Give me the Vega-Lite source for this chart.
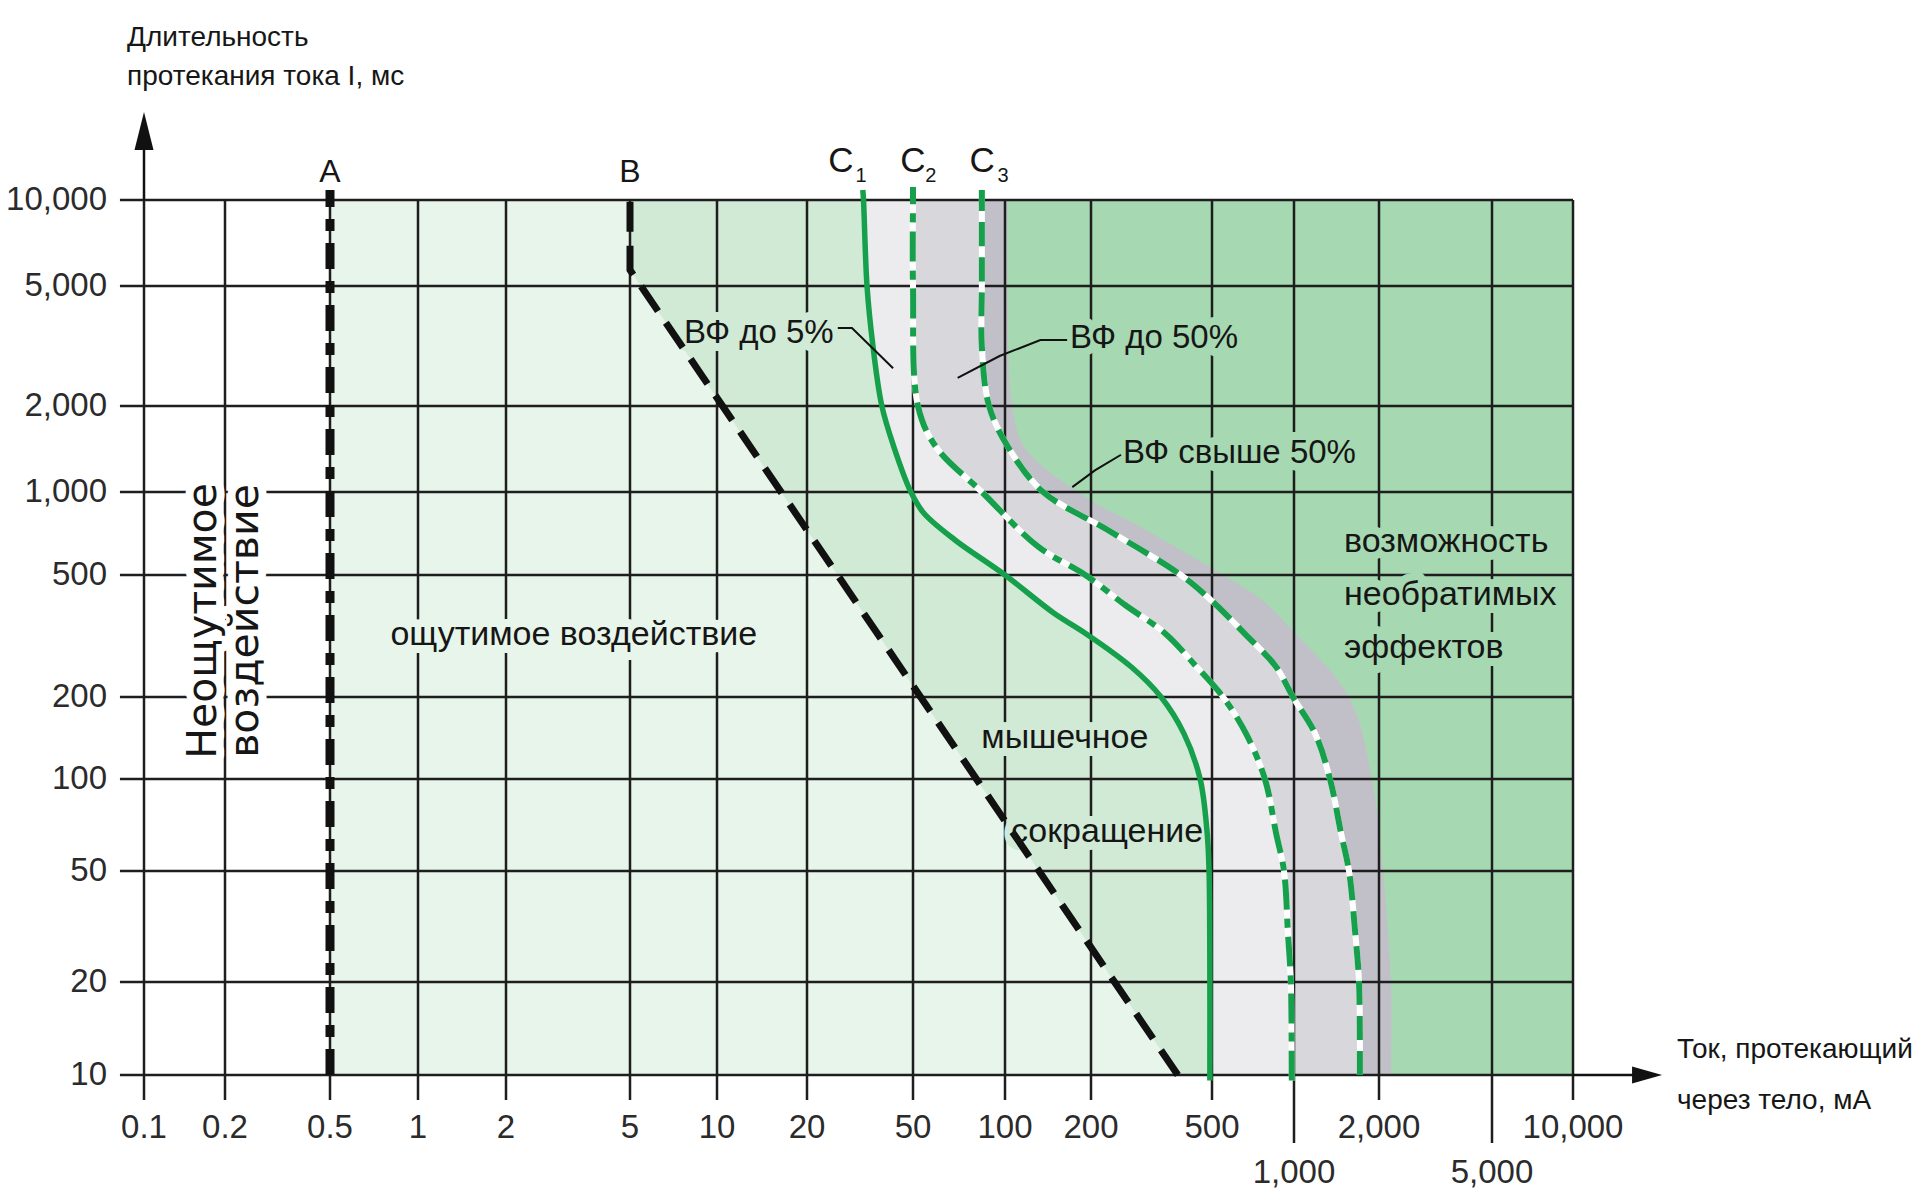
{
  "$schema": "https://vega.github.io/schema/vega-lite/v6.json",
  "width": 1429,
  "height": 875,
  "autosize": {"type": "none"},
  "padding": {"left": 144, "top": 200, "right": 347, "bottom": 124},
  "background": "white",
  "config": {"view": {"stroke": null}},
  "datasets": {
    "grid_x": [{"v":0.1},{"v":0.2},{"v":0.5},{"v":1},{"v":2},{"v":5},{"v":10},{"v":20},{"v":50},{"v":100},{"v":200},{"v":500},{"v":1000},{"v":2000},{"v":5000},{"v":10000}],
    "grid_y": [{"v":10},{"v":20},{"v":50},{"v":100},{"v":200},{"v":500},{"v":1000},{"v":2000},{"v":5000},{"v":10000}],
    "curves": [
      {"c":"A","t":10,"i":0.5},{"c":"A","t":10840,"i":0.5},
      {"c":"B","t":10,"i":386},{"c":"B","t":5690,"i":5},{"c":"B","t":10000,"i":5},{"c":"B","t":10840,"i":5},
      {"c":"C1","t":9.6,"i":492},{"c":"C1","t":10,"i":492},{"c":"C1","t":20,"i":492},{"c":"C1","t":50,"i":489},{"c":"C1","t":66.6,"i":482},{"c":"C1","t":100,"i":457},{"c":"C1","t":147,"i":404},{"c":"C1","t":200,"i":340},{"c":"C1","t":251,"i":271},{"c":"C1","t":323,"i":191},{"c":"C1","t":376,"i":148},{"c":"C1","t":500,"i":100},{"c":"C1","t":670,"i":68.6},{"c":"C1","t":839,"i":54.2},{"c":"C1","t":1000,"i":49.1},{"c":"C1","t":1437,"i":42.4},{"c":"C1","t":2000,"i":38.2},{"c":"C1","t":3140,"i":35.4},{"c":"C1","t":5000,"i":33.6},{"c":"C1","t":10000,"i":32.6},{"c":"C1","t":10840,"i":32.4},
      {"c":"C2","t":9.6,"i":982},{"c":"C2","t":10,"i":981},{"c":"C2","t":20,"i":974},{"c":"C2","t":30,"i":950},{"c":"C2","t":50,"i":919},{"c":"C2","t":66.6,"i":859},{"c":"C2","t":100,"i":782},{"c":"C2","t":147,"i":666},{"c":"C2","t":200,"i":549},{"c":"C2","t":254,"i":440},{"c":"C2","t":323,"i":350},{"c":"C2","t":399,"i":259},{"c":"C2","t":500,"i":191},{"c":"C2","t":632,"i":131},{"c":"C2","t":1000,"i":84},{"c":"C2","t":1437,"i":59.5},{"c":"C2","t":2000,"i":51.9},{"c":"C2","t":5000,"i":50},{"c":"C2","t":10000,"i":50},{"c":"C2","t":11100,"i":50},
      {"c":"C3","t":10,"i":1711},{"c":"C3","t":20,"i":1699},{"c":"C3","t":30.7,"i":1644},{"c":"C3","t":50,"i":1566},{"c":"C3","t":66.6,"i":1467},{"c":"C3","t":100,"i":1341},{"c":"C3","t":147,"i":1187},{"c":"C3","t":200,"i":991},{"c":"C3","t":251,"i":859},{"c":"C3","t":319,"i":666},{"c":"C3","t":414,"i":496},{"c":"C3","t":500,"i":395},{"c":"C3","t":728,"i":227},{"c":"C3","t":1000,"i":136},{"c":"C3","t":1437,"i":102.5},{"c":"C3","t":2000,"i":88.7},{"c":"C3","t":3140,"i":84},{"c":"C3","t":5000,"i":84},{"c":"C3","t":10000,"i":84},{"c":"C3","t":10840,"i":84},
      {"c":"band","t":10,"i":2204},{"c":"band","t":20,"i":2204},{"c":"band","t":50,"i":2066},{"c":"band","t":100,"i":1888},{"c":"band","t":200,"i":1566},{"c":"band","t":323,"i":1008},{"c":"band","t":414,"i":763},{"c":"band","t":500,"i":549},{"c":"band","t":728,"i":303},{"c":"band","t":1000,"i":179},{"c":"band","t":1437,"i":117},{"c":"band","t":2000,"i":106},{"c":"band","t":5000,"i":102},{"c":"band","t":10000,"i":102}
    ],
    "leaders": [
      {"k":"L1","i":26.1,"t":3630},{"k":"L1","i":29.5,"t":3630},{"k":"L1","i":42.1,"t":2670},
      {"k":"L2","i":165,"t":3310},{"k":"L2","i":133,"t":3310},{"k":"L2","i":96,"t":2930},{"k":"L2","i":70,"t":2480},
      {"k":"L3","i":251,"t":1350},{"k":"L3","i":206,"t":1190},{"k":"L3","i":172,"t":1040}
    ],
    "labels": [
      {"kind":"letter","text":"A","i":0.5,"t":11560},
      {"kind":"letter","text":"B","i":5,"t":11560},
      {"kind":"cletter","text":"C","i":26.8,"t":12530},
      {"kind":"cletter","text":"C","i":50,"t":12530},
      {"kind":"cletter","text":"C","i":84.1,"t":12530},
      {"kind":"sub","text":"1","i":31.9,"t":11560},
      {"kind":"sub","text":"2","i":57.2,"t":11560},
      {"kind":"sub","text":"3","i":98.5,"t":11560},
      {"kind":"vf","text":"ВФ до 5%","i":7.69,"t":3236,"zone":"AC-3"},
      {"kind":"vf","text":"ВФ до 50%","i":168.9,"t":3114,"zone":"AC-4"},
      {"kind":"vf","text":"ВФ свыше 50%","i":254.8,"t":1263,"zone":"AC-4"},
      {"kind":"region","text":"ощутимое воздействие","i":3.3,"t":296,"zone":"AC-2"},
      {"kind":"region","text":"мышечное","i":162,"t":130,"zone":"AC-3"},
      {"kind":"region","text":"сокращение","i":225.8,"t":62.2,"zone":"AC-3"},
      {"kind":"effects","text":"возможность\nнеобратимых\nэффектов","i":1503,"t":606,"zone":"AC-4"},
      {"kind":"vertical","text":"Неощутимое\nвоздействие","i":0.167,"t":354,"zone":"AC-1"},
      {"kind":"ytitle","text":"Длительность\nпротекания тока I, мс","i":0.0865,"t":34600},
      {"kind":"xtitle","text":"Ток, протекающий\nчерез тело, мА","i":24350,"t":11.35}
    ]
  },
  "layer": [
    {
      "data": {"values": [{"zone": "AC-4"}]},
      "mark": {"type": "rect", "color": "#a6d8b1"},
      "encoding": {
        "x": {"datum": 0.5, "type": "quantitative", "axis": null,
              "scale": {"type": "log", "domain": [0.1,0.2,0.5,1,2,5,10,20,50,100,200,500,1000,2000,5000,10000], "range": [0,81,186,274,362,486,573,663,769,861,947,1068,1150,1235,1348,1429], "nice": false}},
        "x2": {"datum": 10000},
        "y": {"datum": 10, "type": "quantitative", "axis": null,
              "scale": {"type": "log", "domain": [10,20,50,100,200,500,1000,2000,5000,10000], "range": [875,782,671,579,497,375,292,206,86,0], "nice": false}},
        "y2": {"datum": 10000}
      }
    },
    {
      "data": {"name": "curves"},
      "transform": [{"filter": "datum.c === 'band' && datum.t >= 10 && datum.t <= 10000"}],
      "mark": {"type": "area", "orient": "horizontal", "interpolate": "catmull-rom", "color": "#c1c0c8"},
      "encoding": {
        "y": {"field": "t", "type": "quantitative", "axis": null},
        "x": {"field": "i", "type": "quantitative", "axis": null},
        "x2": {"datum": 0.5}
      }
    },
    {
      "data": {"name": "curves"},
      "transform": [{"filter": "datum.c === 'C3' && datum.t >= 10 && datum.t <= 10000"}],
      "mark": {"type": "area", "orient": "horizontal", "interpolate": "catmull-rom", "color": "#d7d7dc"},
      "encoding": {
        "y": {"field": "t", "type": "quantitative", "axis": null},
        "x": {"field": "i", "type": "quantitative", "axis": null},
        "x2": {"datum": 0.5}
      }
    },
    {
      "data": {"name": "curves"},
      "transform": [{"filter": "datum.c === 'C2' && datum.t >= 10 && datum.t <= 10000"}],
      "mark": {"type": "area", "orient": "horizontal", "interpolate": "catmull-rom", "color": "#ececef"},
      "encoding": {
        "y": {"field": "t", "type": "quantitative", "axis": null},
        "x": {"field": "i", "type": "quantitative", "axis": null},
        "x2": {"datum": 0.5}
      }
    },
    {
      "data": {"name": "curves"},
      "transform": [{"filter": "datum.c === 'C1' && datum.t >= 10 && datum.t <= 10000"}],
      "mark": {"type": "area", "orient": "horizontal", "interpolate": "catmull-rom", "color": "#d0ead5"},
      "encoding": {
        "y": {"field": "t", "type": "quantitative", "axis": null},
        "x": {"field": "i", "type": "quantitative", "axis": null},
        "x2": {"datum": 0.5}
      }
    },
    {
      "data": {"name": "curves"},
      "transform": [{"filter": "datum.c === 'B' && datum.t >= 10 && datum.t <= 10000"}],
      "mark": {"type": "area", "orient": "horizontal", "interpolate": "linear", "color": "#e8f5ea"},
      "encoding": {
        "y": {"field": "t", "type": "quantitative", "axis": null},
        "x": {"field": "i", "type": "quantitative", "axis": null},
        "x2": {"datum": 0.5}
      }
    },
    {
      "data": {"name": "grid_x"},
      "transform": [{"filter": "datum.v != 1000 && datum.v != 5000"}],
      "mark": {"type": "rule", "color": "#1e1e1e", "strokeWidth": 2.5},
      "encoding": {
        "x": {"field": "v", "type": "quantitative", "axis": null},
        "y": {"datum": 8.3, "type": "quantitative", "axis": null},
        "y2": {"datum": 10000}
      }
    },
    {
      "data": {"name": "grid_x"},
      "transform": [{"filter": "datum.v == 1000 || datum.v == 5000"}],
      "mark": {"type": "rule", "color": "#1e1e1e", "strokeWidth": 2.5},
      "encoding": {
        "x": {"field": "v", "type": "quantitative", "axis": null},
        "y": {"datum": 6.02, "type": "quantitative", "axis": null},
        "y2": {"datum": 10000}
      }
    },
    {
      "data": {"name": "grid_y"},
      "mark": {"type": "rule", "color": "#1e1e1e", "strokeWidth": 2.5},
      "encoding": {
        "y": {"field": "v", "type": "quantitative", "axis": null},
        "x": {"datum": 0.0814, "type": "quantitative", "axis": null},
        "x2": {"datum": 10000}
      }
    },
    {
      "data": {"values": [{}]},
      "mark": {"type": "rule", "color": "#111111", "strokeWidth": 2.5},
      "encoding": {
        "x": {"datum": 0.1, "type": "quantitative", "axis": null},
        "y": {"datum": 10000, "type": "quantitative", "axis": null},
        "y2": {"datum": 17000}
      }
    },
    {
      "data": {"values": [{}]},
      "mark": {"type": "rule", "color": "#111111", "strokeWidth": 2.5},
      "encoding": {
        "y": {"datum": 10, "type": "quantitative", "axis": null},
        "x": {"datum": 10000, "type": "quantitative", "axis": null},
        "x2": {"datum": 18000}
      }
    },
    {
      "data": {"values": [{}]},
      "mark": {"type": "point", "shape": "M0,-1L0.5,1L-0.5,1Z", "filled": true, "color": "#111111", "opacity": 1, "size": 1444, "strokeWidth": 0},
      "encoding": {
        "x": {"datum": 0.1, "type": "quantitative", "axis": null},
        "y": {"datum": 17440, "type": "quantitative", "axis": null}
      }
    },
    {
      "data": {"values": [{}]},
      "mark": {"type": "point", "shape": "M1,0L-1,-0.57L-1,0.57Z", "filled": true, "color": "#111111", "opacity": 1, "size": 900, "strokeWidth": 0},
      "encoding": {
        "x": {"datum": 18850, "type": "quantitative", "axis": null},
        "y": {"datum": 10, "type": "quantitative", "axis": null}
      }
    },
    {
      "data": {"name": "grid_x"},
      "transform": [{"filter": "datum.v != 1000 && datum.v != 5000"}],
      "mark": {"type": "text", "font": "Liberation Sans", "fontSize": 33, "color": "#2b2b2b", "align": "center", "baseline": "top", "dy": 37},
      "encoding": {
        "x": {"field": "v", "type": "quantitative", "axis": null},
        "y": {"datum": 10, "type": "quantitative", "axis": null},
        "text": {"field": "v", "type": "quantitative", "format": ","}
      }
    },
    {
      "data": {"name": "grid_x"},
      "transform": [{"filter": "datum.v == 1000 || datum.v == 5000"}],
      "mark": {"type": "text", "font": "Liberation Sans", "fontSize": 33, "color": "#2b2b2b", "align": "center", "baseline": "top", "dy": 82},
      "encoding": {
        "x": {"field": "v", "type": "quantitative", "axis": null},
        "y": {"datum": 10, "type": "quantitative", "axis": null},
        "text": {"field": "v", "type": "quantitative", "format": ","}
      }
    },
    {
      "data": {"name": "grid_y"},
      "mark": {"type": "text", "font": "Liberation Sans", "fontSize": 33, "color": "#2b2b2b", "align": "right", "baseline": "middle", "dx": -37},
      "encoding": {
        "y": {"field": "v", "type": "quantitative", "axis": null},
        "x": {"datum": 0.1, "type": "quantitative", "axis": null},
        "text": {"field": "v", "type": "quantitative", "format": ","}
      }
    },
    {
      "data": {"name": "labels"},
      "transform": [{"filter": "datum.kind === 'region'"}],
      "mark": {"type": "text", "font": "Liberation Sans", "fontSize": 34, "align": "center", "baseline": "alphabetic", "strokeWidth": 16, "strokeJoin": "round"},
      "encoding": {
        "x": {"field": "i", "type": "quantitative", "axis": null},
        "y": {"field": "t", "type": "quantitative", "axis": null},
        "text": {"field": "text"},
        "stroke": {"field": "zone", "type": "nominal", "scale": {"domain": ["AC-1","AC-2","AC-3","AC-4"], "range": ["#ffffff","#e8f5ea","#d0ead5","#a6d8b1"]}, "legend": null},
        "fill": {"field": "zone", "type": "nominal", "scale": {"domain": ["AC-1","AC-2","AC-3","AC-4"], "range": ["#ffffff","#e8f5ea","#d0ead5","#a6d8b1"]}, "legend": null}
      }
    },
    {
      "data": {"name": "labels"},
      "transform": [{"filter": "datum.kind === 'vf'"}],
      "mark": {"type": "text", "font": "Liberation Sans", "fontSize": 33, "align": "left", "baseline": "alphabetic", "strokeWidth": 16, "strokeJoin": "round"},
      "encoding": {
        "x": {"field": "i", "type": "quantitative", "axis": null},
        "y": {"field": "t", "type": "quantitative", "axis": null},
        "text": {"field": "text"},
        "stroke": {"field": "zone", "type": "nominal", "legend": null},
        "fill": {"field": "zone", "type": "nominal", "legend": null}
      }
    },
    {
      "data": {"name": "labels"},
      "transform": [{"filter": "datum.kind === 'effects'"}],
      "mark": {"type": "text", "font": "Liberation Sans", "fontSize": 34, "lineHeight": 53, "lineBreak": "\n", "align": "left", "baseline": "alphabetic", "strokeWidth": 16, "strokeJoin": "round"},
      "encoding": {
        "x": {"field": "i", "type": "quantitative", "axis": null},
        "y": {"field": "t", "type": "quantitative", "axis": null},
        "text": {"field": "text"},
        "stroke": {"field": "zone", "type": "nominal", "legend": null},
        "fill": {"field": "zone", "type": "nominal", "legend": null}
      }
    },
    {
      "data": {"name": "labels"},
      "transform": [{"filter": "datum.kind === 'vertical'"}],
      "mark": {"type": "text", "font": "DejaVu Sans", "fontSize": 41, "lineHeight": 42, "lineBreak": "\n", "angle": 270, "align": "center", "baseline": "middle", "strokeWidth": 16, "strokeJoin": "round"},
      "encoding": {
        "x": {"field": "i", "type": "quantitative", "axis": null},
        "y": {"field": "t", "type": "quantitative", "axis": null},
        "text": {"field": "text"},
        "stroke": {"field": "zone", "type": "nominal", "legend": null},
        "fill": {"field": "zone", "type": "nominal", "legend": null}
      }
    },
    {
      "data": {"name": "curves"},
      "transform": [{"filter": "datum.c === 'A'"}],
      "mark": {"type": "line", "color": "#111111", "strokeWidth": 9, "strokeDash": [26, 12, 12, 12], "clip": false},
      "encoding": {
        "x": {"field": "i", "type": "quantitative", "axis": null},
        "y": {"field": "t", "type": "quantitative", "axis": null},
        "order": {"field": "t"}
      }
    },
    {
      "data": {"name": "curves"},
      "transform": [{"filter": "datum.c === 'B'"}],
      "mark": {"type": "line", "color": "#111111", "strokeWidth": 7, "strokeDash": [30, 14], "clip": false},
      "encoding": {
        "x": {"field": "i", "type": "quantitative", "axis": null},
        "y": {"field": "t", "type": "quantitative", "axis": null},
        "order": {"field": "t"}
      }
    },
    {
      "data": {"name": "curves"},
      "transform": [{"filter": "datum.c === 'C2' || datum.c === 'C3'"}],
      "mark": {"type": "line", "color": "#ffffff", "strokeWidth": 6, "interpolate": "catmull-rom", "clip": false},
      "encoding": {
        "x": {"field": "i", "type": "quantitative", "axis": null},
        "y": {"field": "t", "type": "quantitative", "axis": null},
        "detail": {"field": "c"},
        "order": {"field": "t"}
      }
    },
    {
      "data": {"name": "curves"},
      "transform": [{"filter": "datum.c === 'C2'"}],
      "mark": {"type": "line", "color": "#17a04b", "strokeWidth": 6, "strokeDash": [30, 9, 9, 9], "interpolate": "catmull-rom", "clip": false},
      "encoding": {
        "x": {"field": "i", "type": "quantitative", "axis": null},
        "y": {"field": "t", "type": "quantitative", "axis": null},
        "order": {"field": "t"}
      }
    },
    {
      "data": {"name": "curves"},
      "transform": [{"filter": "datum.c === 'C3'"}],
      "mark": {"type": "line", "color": "#17a04b", "strokeWidth": 6, "strokeDash": [24, 11], "interpolate": "catmull-rom", "clip": false},
      "encoding": {
        "x": {"field": "i", "type": "quantitative", "axis": null},
        "y": {"field": "t", "type": "quantitative", "axis": null},
        "order": {"field": "t"}
      }
    },
    {
      "data": {"name": "curves"},
      "transform": [{"filter": "datum.c === 'C1'"}],
      "mark": {"type": "line", "color": "#17a04b", "strokeWidth": 5.5, "interpolate": "catmull-rom", "clip": false},
      "encoding": {
        "x": {"field": "i", "type": "quantitative", "axis": null},
        "y": {"field": "t", "type": "quantitative", "axis": null},
        "order": {"field": "t"}
      }
    },
    {
      "data": {"name": "leaders"},
      "mark": {"type": "line", "color": "#111111", "strokeWidth": 2},
      "encoding": {
        "x": {"field": "i", "type": "quantitative", "axis": null},
        "y": {"field": "t", "type": "quantitative", "axis": null},
        "detail": {"field": "k"}
      }
    },
    {
      "data": {"name": "labels"},
      "transform": [{"filter": "datum.kind === 'letter'"}],
      "mark": {"type": "text", "font": "Liberation Sans", "fontSize": 32, "align": "center", "baseline": "alphabetic", "color": "#161616"},
      "encoding": {
        "x": {"field": "i", "type": "quantitative", "axis": null},
        "y": {"field": "t", "type": "quantitative", "axis": null},
        "text": {"field": "text"}
      }
    },
    {
      "data": {"name": "labels"},
      "transform": [{"filter": "datum.kind === 'cletter'"}],
      "mark": {"type": "text", "font": "Liberation Sans", "fontSize": 35, "align": "center", "baseline": "alphabetic", "color": "#161616"},
      "encoding": {
        "x": {"field": "i", "type": "quantitative", "axis": null},
        "y": {"field": "t", "type": "quantitative", "axis": null},
        "text": {"field": "text"}
      }
    },
    {
      "data": {"name": "labels"},
      "transform": [{"filter": "datum.kind === 'sub'"}],
      "mark": {"type": "text", "font": "Liberation Sans", "fontSize": 20, "align": "center", "baseline": "alphabetic", "color": "#161616"},
      "encoding": {
        "x": {"field": "i", "type": "quantitative", "axis": null},
        "y": {"field": "t", "type": "quantitative", "axis": null},
        "text": {"field": "text"}
      }
    },
    {
      "data": {"name": "labels"},
      "transform": [{"filter": "datum.kind === 'vf'"}],
      "mark": {"type": "text", "font": "Liberation Sans", "fontSize": 33, "align": "left", "baseline": "alphabetic", "color": "#161616"},
      "encoding": {
        "x": {"field": "i", "type": "quantitative", "axis": null},
        "y": {"field": "t", "type": "quantitative", "axis": null},
        "text": {"field": "text"}
      }
    },
    {
      "data": {"name": "labels"},
      "transform": [{"filter": "datum.kind === 'region'"}],
      "mark": {"type": "text", "font": "Liberation Sans", "fontSize": 34, "align": "center", "baseline": "alphabetic", "color": "#161616"},
      "encoding": {
        "x": {"field": "i", "type": "quantitative", "axis": null},
        "y": {"field": "t", "type": "quantitative", "axis": null},
        "text": {"field": "text"}
      }
    },
    {
      "data": {"name": "labels"},
      "transform": [{"filter": "datum.kind === 'effects'"}],
      "mark": {"type": "text", "font": "Liberation Sans", "fontSize": 34, "lineHeight": 53, "lineBreak": "\n", "align": "left", "baseline": "alphabetic", "color": "#161616"},
      "encoding": {
        "x": {"field": "i", "type": "quantitative", "axis": null},
        "y": {"field": "t", "type": "quantitative", "axis": null},
        "text": {"field": "text"}
      }
    },
    {
      "data": {"name": "labels"},
      "transform": [{"filter": "datum.kind === 'vertical'"}],
      "mark": {"type": "text", "font": "DejaVu Sans", "fontSize": 41, "lineHeight": 42, "lineBreak": "\n", "angle": 270, "align": "center", "baseline": "middle", "color": "#161616"},
      "encoding": {
        "x": {"field": "i", "type": "quantitative", "axis": null},
        "y": {"field": "t", "type": "quantitative", "axis": null},
        "text": {"field": "text"}
      }
    },
    {
      "data": {"name": "labels"},
      "transform": [{"filter": "datum.kind === 'ytitle'"}],
      "mark": {"type": "text", "font": "Liberation Sans", "fontSize": 28, "lineHeight": 39, "lineBreak": "\n", "align": "left", "baseline": "alphabetic", "color": "#161616"},
      "encoding": {
        "x": {"field": "i", "type": "quantitative", "axis": null},
        "y": {"field": "t", "type": "quantitative", "axis": null},
        "text": {"field": "text"}
      }
    },
    {
      "data": {"name": "labels"},
      "transform": [{"filter": "datum.kind === 'xtitle'"}],
      "mark": {"type": "text", "font": "Liberation Sans", "fontSize": 28, "lineHeight": 51, "lineBreak": "\n", "align": "left", "baseline": "alphabetic", "color": "#161616"},
      "encoding": {
        "x": {"field": "i", "type": "quantitative", "axis": null},
        "y": {"field": "t", "type": "quantitative", "axis": null},
        "text": {"field": "text"}
      }
    }
  ]
}
